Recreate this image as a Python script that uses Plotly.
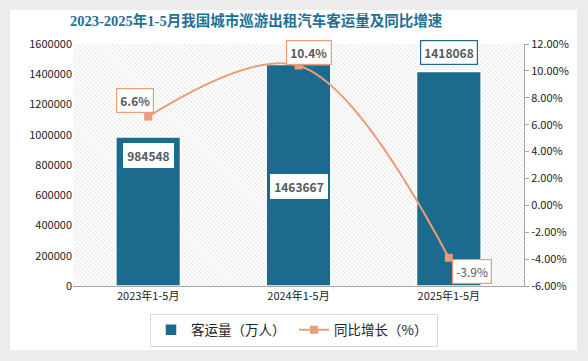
import base64
import plotly.graph_objects as go

categories = ["2023年1-5月", "2024年1-5月", "2025年1-5月"]
volume = [984548, 1463667, 1418068]
growth = [6.6, 10.4, -3.9]
left_ticks = [0, 200000, 400000, 600000, 800000, 1000000, 1200000, 1400000, 1600000]
right_ticks = [-6, -4, -2, 0, 2, 4, 6, 8, 10, 12]

BAR = "#1c6b8e"
LINE = "#ea9c7b"
TXT = "#595959"
FONT = "Noto Sans CJK SC, DejaVu Sans, sans-serif"

L, R, T, B = 73, 64, 44, 75
W, H = 588, 361
PW, PH = W - L - R, H - T - B

def px(x):
    return (x - L) / PW

def py(y):
    return (H - B - y) / PH

def uri(s):
    return "data:image/svg+xml;base64," + base64.b64encode(s.encode()).decode()

hatch = uri(
    f"<svg xmlns='http://www.w3.org/2000/svg' width='{PW}' height='{PH}'>"
    "<defs><pattern id='p' width='3' height='3' patternUnits='userSpaceOnUse' "
    "patternTransform='rotate(-45)'><line x1='0' y1='0' x2='0' y2='3' stroke='#d2d2d2' stroke-width='1'/>"
    "</pattern></defs><rect width='100%' height='100%' fill='url(#p)'/></svg>"
)
card = uri("<svg xmlns='http://www.w3.org/2000/svg' width='100' height='100'>"
           "<rect width='100' height='100' fill='white'/></svg>")

fig = go.Figure()
fig.add_trace(go.Bar(
    x=categories, y=volume, name="客运量（万人）",
    marker=dict(color=BAR, line=dict(color="white", width=1.5)),
    width=0.43,
))
fig.add_trace(go.Scatter(
    x=categories, y=growth, name="同比增长（%）", yaxis="y2",
    mode="lines+markers",
    line=dict(color=LINE, width=2, shape="spline", smoothing=1.0),
    marker=dict(symbol="square", size=8, color=LINE),
))

# bar labels
bar_shift = [-18, -122, 19]
bar_border = ["white", "white", BAR]
for c, v, s, bc in zip(categories, volume, bar_shift, bar_border):
    fig.add_annotation(x=c, y=v, yref="y", text=f"<b>{v}</b>", showarrow=False,
                       yshift=s, bgcolor="white", bordercolor=bc, borderwidth=1.2,
                       borderpad=3, font=dict(size=12, color=TXT, family=FONT))

# line labels
lab_dx = [-13, 10, 23]
lab_dy = [16, 13, -14]
for i, (c, g) in enumerate(zip(categories, growth)):
    t = f"{g}%"
    t = f"<b>{t}</b>" if i < 2 else t
    fig.add_annotation(x=c, y=g, yref="y2", text=t, showarrow=False,
                       xshift=lab_dx[i], yshift=lab_dy[i], bgcolor="white",
                       bordercolor=LINE, borderwidth=1.2, borderpad=3,
                       font=dict(size=12, color=TXT, family=FONT))

fig.add_annotation(xref="paper", yref="paper", x=px(256), y=py(20),
                   text="<b>2023-2025年1-5月我国城市巡游出租汽车客运量及同比增速</b>",
                   showarrow=False, xanchor="center", yanchor="middle",
                   font=dict(size=14.5, color="#246f94",
                             family="Liberation Serif, Noto Sans CJK SC, serif"))

fig.add_layout_image(source=card, xref="paper", yref="paper", x=px(10), y=py(10),
                     sizex=px(577) - px(10), sizey=py(10) - py(350),
                     xanchor="left", yanchor="top", sizing="stretch", layer="below")
fig.add_layout_image(source=hatch, xref="paper", yref="paper", x=0, y=1,
                     sizex=1, sizey=1, xanchor="left", yanchor="top",
                     sizing="stretch", layer="below")

fig.update_layout(
    width=W, height=H,
    margin=dict(l=L, r=R, t=T, b=B, autoexpand=False),
    paper_bgcolor="#ececec",
    plot_bgcolor="rgba(0,0,0,0)",
    font=dict(family=FONT, size=11, color="#222222"),
    showlegend=True,
    legend=dict(orientation="h", x=px(294), y=py(330), xanchor="center",
                yanchor="middle", bordercolor="#d9d9d9", borderwidth=1,
                bgcolor="white", font=dict(size=13.5, color="#222222"),
                entrywidth=98),
    xaxis=dict(showgrid=False, showline=True, linecolor="#a6a6a6", linewidth=1,
               ticks="", tickfont=dict(size=11), range=[-0.5, 2.5], automargin=False),
    yaxis=dict(range=[0, 1600000], tickvals=left_ticks,
               ticktext=[str(v) for v in left_ticks], showgrid=False,
               zeroline=False, showline=False, ticks="", tickfont=dict(size=11),
               automargin=False),
    yaxis2=dict(range=[-6, 12], tickvals=right_ticks,
                ticktext=[f"{v:.2f}%" for v in right_ticks], overlaying="y",
                side="right", showgrid=False, zeroline=False, showline=True,
                linecolor="#a6a6a6", ticks="outside", ticklen=4,
                tickcolor="#a6a6a6", tickfont=dict(size=11), automargin=False),
)
fig.write_html("out.html", config={"displayModeBar": False},
               post_script="document.body.style.margin='0';")
